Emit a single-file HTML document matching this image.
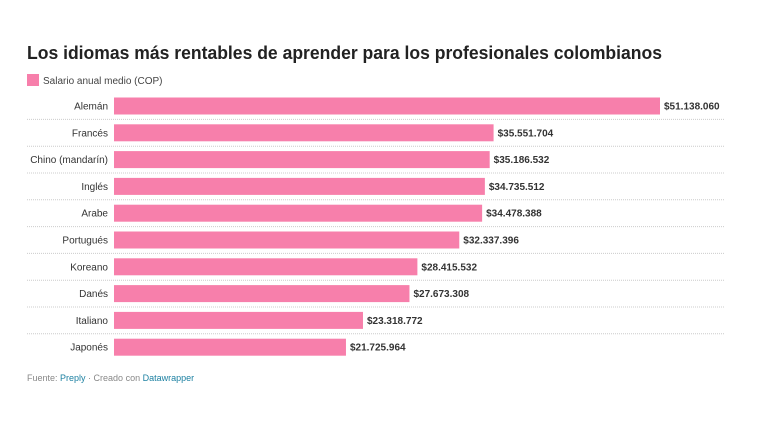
<!DOCTYPE html>
<html><head><meta charset="utf-8"><style>
body{margin:0;background:#fff;width:764px;height:430px;overflow:hidden;font-family:"Liberation Sans",sans-serif}
</style></head><body>
<svg id="c" width="764" height="430">
<text x="27" y="59" font-size="18.5" font-weight="bold" fill="#222" textLength="635" lengthAdjust="spacingAndGlyphs">Los idiomas más rentables de aprender para los profesionales colombianos</text>
<rect x="27" y="74" width="12" height="12" fill="#f77fab"/>
<text x="43" y="84" font-size="10" fill="#444">Salario anual medio (COP)</text>
<g id="bars"></g>
<text x="27" y="381" font-size="9" fill="#888">Fuente: <tspan fill="#1d81a2">Preply</tspan> · Creado con <tspan fill="#1d81a2">Datawrapper</tspan></text>
</svg>
<script>
const categories=["Alemán","Francés","Chino (mandarín)","Inglés","Arabe","Portugués","Koreano","Danés","Italiano","Japonés"];
const values=[51138060,35551704,35186532,34735512,34478388,32337396,28415532,27673308,23318772,21725964];
const labels=["$51.138.060","$35.551.704","$35.186.532","$34.735.512","$34.478.388","$32.337.396","$28.415.532","$27.673.308","$23.318.772","$21.725.964"];
const g=document.getElementById('bars');const ns="http://www.w3.org/2000/svg";
const x0=114,xMax=546/51138060;
const xs=v=>v*xMax;
const yc=i=>106+i*26.8;
categories.forEach((c,i)=>{
 const y=yc(i);
 const r=document.createElementNS(ns,'rect');
 r.setAttribute('x',x0);r.setAttribute('y',y-8.5);r.setAttribute('width',xs(values[i]));r.setAttribute('height',17);r.setAttribute('fill','#f77fab');
 
 
 g.appendChild(r);
 const t=document.createElementNS(ns,'text');
 t.setAttribute('x',x0-6);t.setAttribute('y',y+3.5);t.setAttribute('text-anchor','end');t.setAttribute('font-size','10');t.setAttribute('fill','#333');t.textContent=c;
 
 
 g.appendChild(t);
 const v=document.createElementNS(ns,'text');
 v.setAttribute('x',x0+xs(values[i])+4);v.setAttribute('y',y+3.5);v.setAttribute('font-size','10');v.setAttribute('font-weight','bold');v.setAttribute('fill','#333');v.textContent=labels[i];
 
 
 g.appendChild(v);
 if(i<categories.length-1){
  const l=document.createElementNS(ns,'line');
  l.setAttribute('x1',27);l.setAttribute('x2',724);l.setAttribute('y1',y+13.4);l.setAttribute('y2',y+13.4);
  l.setAttribute('stroke','#ccc');l.setAttribute('stroke-dasharray','1,1');
  
  
  g.appendChild(l);
 }
});
</script>
</body></html>
